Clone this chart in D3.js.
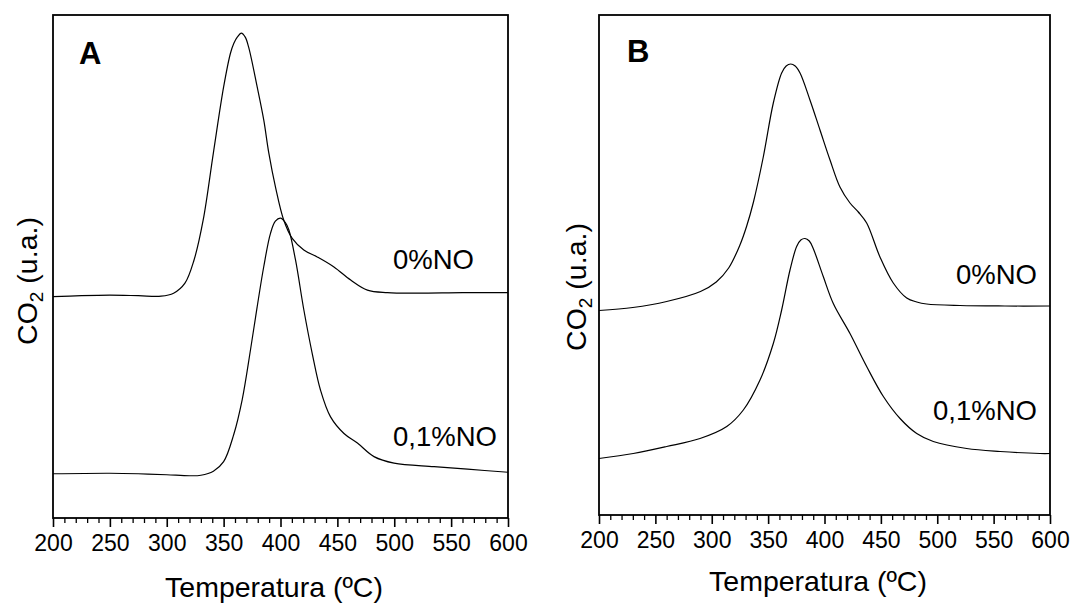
<!DOCTYPE html>
<html><head><meta charset="utf-8">
<script src="https://cdn.jsdelivr.net/npm/d3@7"></script>
<style>
body{margin:0;background:#fff}
svg{display:block}
text{font-family:"Liberation Sans",Arial,Helvetica,sans-serif;fill:#000}
</style>
</head><body>
<svg id="chart" width="1074" height="604"></svg>
<script>
// ---------- data ----------
const xMajorTicks = [200, 250, 300, 350, 400, 450, 500, 550, 600];
const xTitle = "Temperatura (ºC)";
const seriesNames = ["0%NO", "0,1%NO"];

// Panel A, 0%NO
const tempA0 = [200,225,250,275,295,306,316,324,332,341,350,356,359,362,365.6,369,372,379.5,385.3,389.7,395.6,402.9,410.3,420.5,432.3,447,461.7,476.4,494,520,560,600];
const co2A0  = [44.0,44.2,44.3,44.2,44.1,44.7,46.7,51.3,59.2,72.6,85.7,92.4,94.4,95.6,96.4,95.6,93.6,85.7,79.1,72.6,65.8,59.2,55.6,53.3,51.9,49.9,47.3,45.3,44.8,44.7,44.8,44.8];
// Panel A, 0,1%NO
const tempA1 = [200,250,275,300,320,330,341,350,358.9,366.3,373.6,379.5,385.3,391.2,395.5,400,404,407.3,413.2,420.5,427.9,435.2,444,455.8,467.6,482.2,499.8,535,564.5,600];
const co2A1  = [8.8,8.9,8.8,8.6,8.4,8.5,9.3,11.2,16.6,23.5,33.4,42.0,50.0,56.6,59.0,59.6,58.8,57.3,51.3,41.4,32.7,25.4,20.1,16.8,14.9,12.2,10.9,10.2,9.7,9.1];
// Panel B, 0%NO
const tempB0 = [200,230,260,290,304,315,325,331,337,345.7,354.6,362,366,370,374,378.3,387.1,396,404.9,413.7,422.6,430,437.4,449.2,461,472.9,481.8,490.6,520,560,600];
const co2B0  = [40.9,41.5,42.7,44.7,46.6,49.4,54.0,57.8,62.6,71.6,82.4,88.4,89.8,90.2,89.8,88.4,83.0,77.0,71.0,65.6,62.4,60.6,58.4,51.6,46.4,43.4,42.6,42.2,41.9,41.8,41.8];
// Panel B, 0,1%NO
const tempB1 = [200,230.4,260,289.6,313.3,328,342.8,354.6,362,369.4,375.3,379,382.7,386.5,390,398.9,407.8,422.6,437.4,452.2,467,481.8,496.5,526.1,555.7,591.2,600];
const co2B1  = [11.3,12.3,13.7,15.3,17.7,21.0,27.0,34.3,41.0,49.0,53.7,55.0,55.3,54.8,53.3,47.7,42.3,36.3,29.7,23.7,19.3,16.3,14.7,13.3,12.7,12.3,12.3];

// ---------- layout ----------
const panels = [
  {letter:"A", x0:53, x1:508, y0:15, y1:518,
   letterX:79, letterY:64,
   series:[{t:tempA0, v:co2A0, name:seriesNames[0], lx:393, ly:269, anchor:"start"},
           {t:tempA1, v:co2A1, name:seriesNames[1], lx:393, ly:446, anchor:"start"}],
   yLabX:37, yLabY:281, xTitX:274, xTitY:597},
  {letter:"B", x0:599, x1:1050, y0:15, y1:515,
   letterX:627, letterY:62,
   series:[{t:tempB0, v:co2B0, name:seriesNames[0], lx:1037, ly:284, anchor:"end"},
           {t:tempB1, v:co2B1, name:seriesNames[1], lx:1037, ly:420, anchor:"end"}],
   yLabX:586, yLabY:287, xTitX:818, xTitY:591}
];

const svg = d3.select("#chart");

panels.forEach(p => {
  const x = d3.scaleLinear().domain([200, 600]).range([p.x0, p.x1]);
  const y = d3.scaleLinear().domain([0, 100]).range([p.y1, p.y0]);
  const g = svg.append("g");

  // minor ticks
  const minor = d3.range(200, 601, 10).filter(d => d % 50 !== 0);
  g.append("g").attr("transform", `translate(0,${p.y1})`)
    .call(d3.axisBottom(x).tickValues(minor).tickSize(5).tickFormat(""))
    .call(a => a.select(".domain").remove())
    .selectAll("line").attr("stroke", "#000").attr("stroke-width", 1.3);

  // major ticks + labels
  const ax = g.append("g").attr("transform", `translate(0,${p.y1})`)
    .call(d3.axisBottom(x).tickValues(xMajorTicks).tickSize(9).tickPadding(8).tickSizeOuter(0).tickFormat(d3.format("d")));
  ax.select(".domain").remove();
  ax.selectAll("line").attr("stroke", "#000").attr("stroke-width", 1.6);
  ax.selectAll("text").attr("font-size", 23).attr("fill", "#000")
    .style("font-family", '"Liberation Sans",Arial,sans-serif');

  // frame
  g.append("rect").attr("x", p.x0).attr("y", p.y0)
    .attr("width", p.x1 - p.x0).attr("height", p.y1 - p.y0)
    .attr("fill", "none").attr("stroke", "#000").attr("stroke-width", 1.8);

  // curves
  const line = d3.line().x(d => x(d[0])).y(d => y(d[1])).curve(d3.curveCatmullRom.alpha(0.5));
  p.series.forEach(s => {
    const pts = s.t.map((t, i) => [t, s.v[i]]);
    g.append("path").attr("d", line(pts)).attr("fill", "none")
      .attr("stroke", "#000").attr("stroke-width", 1.2);
    g.append("text").attr("x", s.lx).attr("y", s.ly).attr("text-anchor", s.anchor)
      .attr("font-size", 27.5).text(s.name);
  });

  // panel letter
  g.append("text").attr("x", p.letterX).attr("y", p.letterY)
    .attr("font-size", 31).attr("font-weight", "bold").text(p.letter);

  // y label
  const yl = g.append("text").attr("transform", `translate(${p.yLabX},${p.yLabY}) rotate(-90)`)
    .attr("text-anchor", "middle").attr("font-size", 28.5);
  yl.append("tspan").text("CO");
  yl.append("tspan").attr("font-size", 19).attr("dy", 6).text("2");
  yl.append("tspan").attr("dy", -6).text(" (u.a.)");

  // x title
  g.append("text").attr("x", p.xTitX).attr("y", p.xTitY).attr("text-anchor", "middle")
    .attr("font-size", 28.5).text(xTitle);
});
</script>
</body></html>
